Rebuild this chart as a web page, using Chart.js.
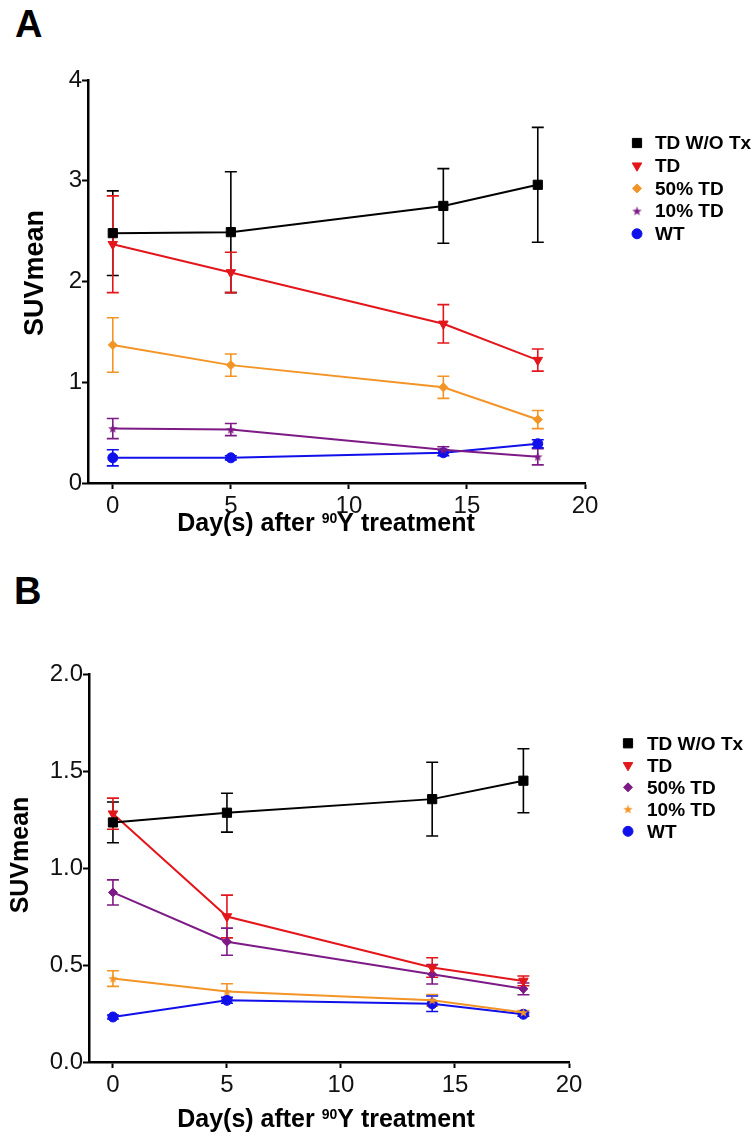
<!DOCTYPE html>
<html>
<head>
<meta charset="utf-8">
<script src="https://cdn.jsdelivr.net/npm/chart.js@4.4.0/dist/chart.umd.min.js"></script>
<style>
  html, body { margin: 0; padding: 0; background: #fff; }
  body { width: 755px; height: 1148px; position: relative; overflow: hidden; font-family: "Liberation Sans", Arial, sans-serif; }
  .panel { position: absolute; left: 0; width: 755px; }
  .tag { position: absolute; font-weight: bold; font-size: 38px; line-height: 1; color: #000; }
</style>
</head>
<body>
<div class="tag" style="left:15px; top:5px;">A</div>
<div class="tag" style="left:14px; top:572px;">B</div>
<div class="panel" style="top:40px; height:520px;"><canvas id="chartA"></canvas></div>
<div class="panel" style="top:560px; height:588px;"><canvas id="chartB"></canvas></div>
<script>
// x values (days after 90Y treatment) and axis ticks
const days = [0, 5, 14, 18];
const xTicks = [0, 5, 10, 15, 20];
const yTicksA = [0, 1, 2, 3, 4];
const yTicksB = [0, 0.5, 1.0, 1.5, 2.0];
const labels = ['TD W/O Tx', 'TD', '50% TD', '10% TD', 'WT'];

// panel A: mean SUV and error (SEM)
const aNoTx = [2.48, 2.49, 2.75, 2.96];
const aNoTxErr = [0.42, 0.60, 0.37, 0.57];
const aTD = [2.37, 2.09, 1.58, 1.22];
const aTDErr = [0.48, 0.20, 0.19, 0.11];
const aTD50 = [1.37, 1.17, 0.95, 0.63];
const aTD50Err = [0.27, 0.11, 0.11, 0.09];
const aTD10 = [0.54, 0.53, 0.33, 0.26];
const aTD10Err = [0.10, 0.06, 0.03, 0.08];
const aWT = [0.25, 0.25, 0.30, 0.39];
const aWTErr = [0.08, 0.02, 0.03, 0.04];

// panel B
const bNoTx = [1.235, 1.285, 1.355, 1.45];
const bNoTxErr = [0.105, 0.10, 0.19, 0.165];
const bTD = [1.28, 0.75, 0.487, 0.418];
const bTDErr = [0.08, 0.11, 0.05, 0.025];
const bTD50 = [0.874, 0.62, 0.452, 0.377];
const bTD50Err = [0.065, 0.07, 0.05, 0.03];
const bTD10 = [0.43, 0.363, 0.318, 0.255];
const bTD10Err = [0.04, 0.04, 0.03, 0.01];
const bWT = [0.232, 0.318, 0.30, 0.246];
const bWTErr = [0.01, 0.015, 0.04, 0.01];

const BLACK = '#000000';
const RED = '#e3161c';
const ORANGE = '#f39426';
const PURPLE = '#7d1a86';
const BLUE = '#1010ea';
const FONT = '"Liberation Sans", Arial, sans-serif';

// filled five point star, Chart.js has no such point style
function starImage(color) {
    const c = document.createElement('canvas');
    c.width = 11; c.height = 11;
    const g = c.getContext('2d');
    g.fillStyle = color;
    g.beginPath();
    for (let i = 0; i < 10; i++) {
        const r = i % 2 ? 2.0 : 5;
        const a = -Math.PI / 2 + i * Math.PI / 5;
        g.lineTo(5.5 + r * Math.cos(a), 5.8 + r * Math.sin(a));
    }
    g.closePath();
    g.fill();
    return c;
}

function series(label, values, err, color, style, radius, rotation) {
    return {
        label: label,
        data: days.map((d, i) => ({ x: d, y: values[i] })),
        err: err,
        borderColor: color,
        backgroundColor: color,
        pointBackgroundColor: color,
        pointBorderColor: color,
        pointStyle: style,
        pointRadius: radius,
        pointHoverRadius: radius,
        pointRotation: rotation || 0,
        pointBorderWidth: 1,
        borderWidth: 2,
        tension: 0
    };
}

// vertical error bars with caps
const errorBars = {
    id: 'errorBars',
    beforeDatasetsDraw(chart) {
        const { ctx } = chart;
        const y = chart.scales.y;
        chart.data.datasets.forEach((ds, i) => {
            const meta = chart.getDatasetMeta(i);
            ctx.save();
            ctx.strokeStyle = ds.borderColor;
            ctx.lineWidth = 1.6;
            meta.data.forEach((pt, j) => {
                const v = ds.data[j].y, e = ds.err[j];
                const top = y.getPixelForValue(v + e);
                const bot = y.getPixelForValue(v - e);
                ctx.beginPath();
                ctx.moveTo(pt.x, top); ctx.lineTo(pt.x, bot);
                ctx.moveTo(pt.x - 6, top); ctx.lineTo(pt.x + 6, top);
                ctx.moveTo(pt.x - 6, bot); ctx.lineTo(pt.x + 6, bot);
                ctx.stroke();
            });
            ctx.restore();
        });
    }
};

// legend at the right, and axis titles (x title has a superscript)
const decor = {
    id: 'decor',
    afterDraw(chart, args, o) {
        const { ctx } = chart;
        ctx.save();
        ctx.textBaseline = 'middle';
        ctx.textAlign = 'left';
        chart.data.datasets.forEach((ds, i) => {
            const y = o.legendTop + i * o.legendStep;
            ctx.fillStyle = ds.pointBackgroundColor;
            ctx.strokeStyle = ds.pointBorderColor;
            ctx.lineWidth = 1;
            Chart.helpers.drawPoint(ctx, {
                pointStyle: ds.pointStyle,
                radius: ds.pointRadius,
                rotation: ds.pointRotation,
                borderWidth: 1
            }, o.markerX, y);
            ctx.fillStyle = '#000';
            ctx.font = 'bold 19px ' + FONT;
            ctx.fillText(ds.label, o.textX, y + 1);
        });

        // x title
        ctx.textBaseline = 'alphabetic';
        const big = 'bold 25px ' + FONT, small = 'bold 14px ' + FONT;
        const parts = [['Day(s) after ', big, 0], ['90', small, -8], ['Y treatment', big, 0]];
        let total = 0;
        parts.forEach(p => { ctx.font = p[1]; total += ctx.measureText(p[0]).width; });
        let x = o.xTitleCenter - total / 2;
        parts.forEach(p => {
            ctx.font = p[1];
            ctx.fillText(p[0], x, o.xTitleBaseline + p[2]);
            x += ctx.measureText(p[0]).width;
        });

        // y title
        ctx.translate(o.yTitleX, o.yTitleCenter);
        ctx.rotate(-Math.PI / 2);
        ctx.textAlign = 'center';
        ctx.font = 'bold ' + o.yTitleSize + 'px ' + FONT;
        ctx.fillText('SUVmean', 0, 0);
        ctx.restore();
    }
};

function axisOptions(yTicks, yMax, yWidth, xHeight, yFormat) {
    const tickFont = { family: FONT, size: 24 };
    return {
        x: {
            type: 'linear', min: -1.05, max: 20,
            afterBuildTicks: s => { s.ticks = xTicks.map(v => ({ value: v })); },
            afterFit: s => { s.height = xHeight; },
            grid: { drawOnChartArea: false, tickLength: 6, tickColor: '#000', tickWidth: 2 },
            border: { color: '#000', width: 2.5 },
            ticks: { font: tickFont, color: '#111', padding: 3, maxRotation: 0 }
        },
        y: {
            type: 'linear', min: 0, max: yMax,
            afterBuildTicks: s => { s.ticks = yTicks.map(v => ({ value: v })); },
            afterFit: s => { s.width = yWidth; },
            grid: { drawOnChartArea: false, tickLength: 6, tickColor: '#000', tickWidth: 2 },
            border: { color: '#000', width: 2.5 },
            ticks: { font: tickFont, color: '#111', padding: 0, callback: yFormat }
        }
    };
}

const chartA = new Chart(document.getElementById('chartA'), {
    type: 'line',
    data: {
        datasets: [
            series(labels[0], aNoTx, aNoTxErr, BLACK, 'rect', 6.5),
            series(labels[1], aTD, aTDErr, RED, 'triangle', 5.5, 180),
            series(labels[2], aTD50, aTD50Err, ORANGE, 'rectRot', 4.5),
            series(labels[3], aTD10, aTD10Err, PURPLE, starImage(PURPLE), 5),
            series(labels[4], aWT, aWTErr, BLUE, 'circle', 5)
        ]
    },
    options: {
        responsive: true,
        maintainAspectRatio: false,
        animation: false,
        layout: { padding: { top: 40, right: 170, bottom: 0, left: 0 } },
        scales: axisOptions(yTicksA, 4, 88, 77, v => String(v)),
        plugins: {
            legend: { display: false },
            tooltip: { enabled: false },
            decor: {
                legendTop: 103, legendStep: 22.7, markerX: 637, textX: 655,
                xTitleCenter: 326, xTitleBaseline: 491,
                yTitleX: 43, yTitleCenter: 233, yTitleSize: 27
            }
        }
    },
    plugins: [errorBars, decor]
});

const chartB = new Chart(document.getElementById('chartB'), {
    type: 'line',
    data: {
        datasets: [
            series(labels[0], bNoTx, bNoTxErr, BLACK, 'rect', 6.5),
            series(labels[1], bTD, bTDErr, RED, 'triangle', 5.5, 180),
            series(labels[2], bTD50, bTD50Err, PURPLE, 'rectRot', 4.5),
            series(labels[3], bTD10, bTD10Err, ORANGE, starImage(ORANGE), 5),
            series(labels[4], bWT, bWTErr, BLUE, 'circle', 5)
        ]
    },
    options: {
        responsive: true,
        maintainAspectRatio: false,
        animation: false,
        layout: { padding: { top: 114, right: 186, bottom: 0, left: 0 } },
        scales: axisOptions(yTicksB, 2, 89, 86, v => v.toFixed(1)),
        plugins: {
            legend: { display: false },
            tooltip: { enabled: false },
            decor: {
                legendTop: 183.3, legendStep: 22, markerX: 628, textX: 647,
                xTitleCenter: 326, xTitleBaseline: 567,
                yTitleX: 28, yTitleCenter: 295, yTitleSize: 25
            }
        }
    },
    plugins: [errorBars, decor]
});
</script>
</body>
</html>
